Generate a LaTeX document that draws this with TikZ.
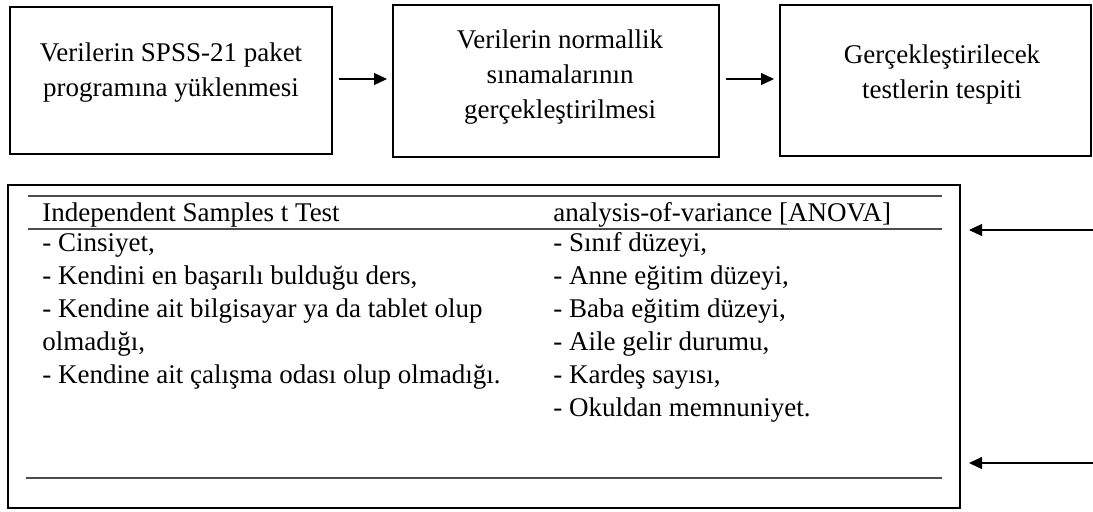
\documentclass[tikz,border=0pt]{standalone}
\usepackage{fontspec}
\setmainfont{Liberation Serif}
\usetikzlibrary{arrows.meta}
\begin{document}
\begin{tikzpicture}[x=0.5pt,y=-0.5pt,
  box/.style={draw, line width=1pt, inner sep=0pt},
  txt/.style={align=center, inner sep=0pt, font=\fontsize{13.5}{17.5}\selectfont},
  cell/.style={anchor=base west, inner sep=0pt, font=\fontsize{13.5}{16}\selectfont},
  rule/.style={draw=black!70, line width=0.7pt},
  arr/.style={line width=0.6pt, -{Triangle[length=6.5pt,width=6pt]}}]
\useasboundingbox (0,0) rectangle (1093,511);
% top boxes
\node[box, minimum width=161pt, minimum height=73.5pt] (b1) at (171,80.5) {};
\node[box, minimum width=163pt, minimum height=76pt] (b2) at (556,81) {};
\node[box, minimum width=155.5pt, minimum height=75.5pt] (b3) at (935.5,80.5) {};
\node[txt] (t1) at (171,73) {Verilerin SPSS-21 paket\\programına yüklenmesi};
\node[txt] (t2) at (560,77) {Verilerin normallik\\sınamalarının\\gerçekleştirilmesi};
\node[txt] (t3) at (942,74) {Gerçekleştirilecek\\testlerin tespiti};
\draw[arr, shorten <=3pt, shorten >=2.5pt] (b1.east |- 0,79) -- (b2.west |- 0,79);
\draw[arr, shorten <=3pt, shorten >=2.5pt] (b2.east |- 0,79) -- (b3.west |- 0,79);
% bottom box
\node[box, minimum width=476pt, minimum height=161.5pt] (tb) at (484,346.5) {};
\coordinate (l1a) at (28,196); \coordinate (l1b) at (942,196);
\coordinate (l2a) at (28,229); \coordinate (l2b) at (942,229);
\coordinate (l3a) at (26,478); \coordinate (l3b) at (942,478);
\draw[rule] (l1a) -- (l1b);
\draw[rule] (l2a) -- (l2b);
\draw[rule] (l3a) -- (l3b);
\node[cell] (h1) at (42,221) {Independent Samples t Test};
\node[cell] (h2) at (553,221) {analysis-of-variance [ANOVA]};
\node[cell] (a1) at (42,251) {- Cinsiyet,};
\node[cell] (a2) at (42,284) {- Kendini en başarılı bulduğu ders,};
\node[cell] (a3) at (42,317) {- Kendine ait bilgisayar ya da tablet olup};
\node[cell] (a4) at (42,350) {olmadığı,};
\node[cell] (a5) at (42,383) {- Kendine ait çalışma odası olup olmadığı.};
\node[cell] (c1) at (553,251) {- Sınıf düzeyi,};
\node[cell] (c2) at (553,284) {- Anne eğitim düzeyi,};
\node[cell] (c3) at (553,317) {- Baba eğitim düzeyi,};
\node[cell] (c4) at (553,350) {- Aile gelir durumu,};
\node[cell] (c5) at (553,383) {- Kardeş sayısı,};
\node[cell] (c6) at (553,416) {- Okuldan memnuniyet.};
% right arrows
\coordinate (r1) at (1093,230);
\coordinate (r2) at (1093,463);
\draw[arr, shorten >=4pt] (r1) -- (r1 -| tb.east);
\draw[arr, shorten >=4pt] (r2) -- (r2 -| tb.east);
\end{tikzpicture}
\end{document}
